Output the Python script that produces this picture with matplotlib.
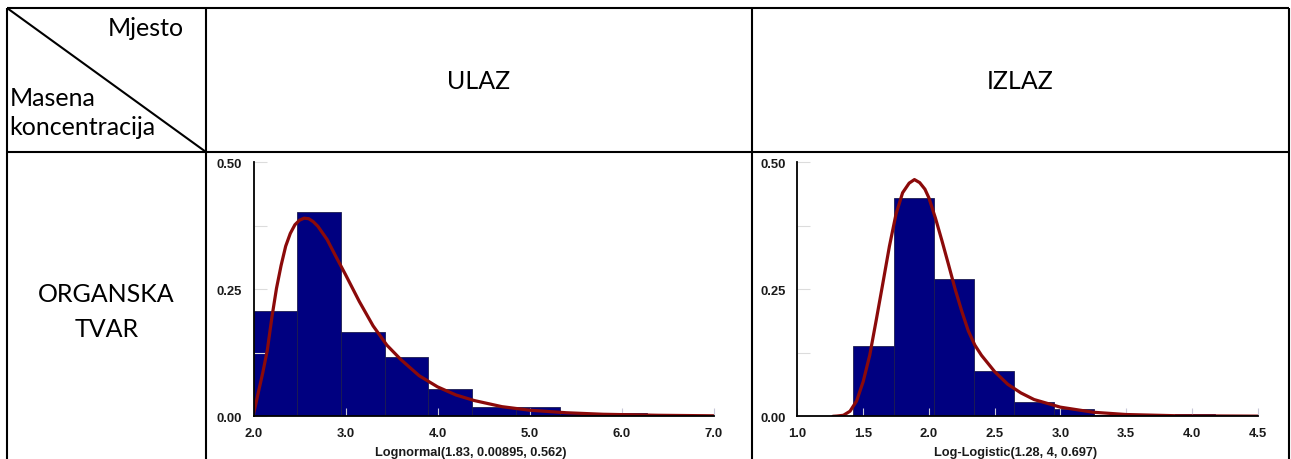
import numpy as np
import matplotlib
matplotlib.use('Agg')
import matplotlib.pyplot as plt
from matplotlib.ticker import FixedLocator, FormatStrFormatter

# histogram bins (relative frequencies)
ulaz_edges = [2.0, 2.476, 2.951, 3.427, 3.902, 4.378, 4.853, 5.329, 5.804, 6.280]
ulaz_freq = [0.208, 0.403, 0.166, 0.116, 0.054, 0.018, 0.018, 0.0068, 0.0068]
izlaz_edges = [1.425, 1.731, 2.036, 2.342, 2.647, 2.953, 3.258, 3.564, 3.869, 4.175]
izlaz_freq = [0.138, 0.430, 0.270, 0.090, 0.029, 0.0134, 0.003, 0.002, 0.0055]

# fitted curves, points
ulaz_fit_x = [2.0, 2.02, 2.05, 2.10, 2.15, 2.20, 2.25, 2.30, 2.35, 2.40, 2.45, 2.50,
              2.55, 2.60, 2.65, 2.70, 2.80, 2.90, 3.00, 3.15, 3.30, 3.45, 3.60, 3.80,
              4.00, 4.20, 4.40, 4.70, 5.00, 5.40, 5.80, 6.40, 7.0]
ulaz_fit_y = [0.005, 0.02, 0.045, 0.085, 0.13, 0.195, 0.252, 0.297, 0.335, 0.36, 0.377, 0.386,
              0.39, 0.389, 0.383, 0.374, 0.348, 0.313, 0.279, 0.226, 0.178, 0.14, 0.112, 0.08,
              0.058, 0.042, 0.031, 0.019, 0.012, 0.007, 0.004, 0.002, 0.001]
izlaz_fit_x = [1.27, 1.30, 1.35, 1.40, 1.45, 1.50, 1.55, 1.60, 1.65, 1.70, 1.75, 1.80,
               1.85, 1.89, 1.93, 1.97, 2.00, 2.05, 2.10, 2.15, 2.20, 2.25, 2.30, 2.35,
               2.40, 2.50, 2.60, 2.70, 2.80, 3.00, 3.25, 3.50, 3.90, 4.50]
izlaz_fit_y = [0.0, 0.0005, 0.002, 0.01, 0.03, 0.068, 0.12, 0.19, 0.262, 0.335, 0.398, 0.44,
               0.459, 0.466, 0.46, 0.447, 0.43, 0.39, 0.345, 0.298, 0.25, 0.207, 0.168, 0.14,
               0.12, 0.088, 0.063, 0.046, 0.033, 0.018, 0.008, 0.0035, 0.001, 0.0003]

ulaz_label = 'Lognormal(1.83, 0.00895, 0.562)'
izlaz_label = 'Log-Logistic(1.28, 4, 0.697)'

W, H = 1291, 460
fig = plt.figure(figsize=(W/100, H/100), dpi=100)

# table frame drawn in pixel coordinates
tab = fig.add_axes([0, 0, 1, 1])
tab.set_xlim(0, W)
tab.set_ylim(H, 0)
tab.axis('off')
lw = 1.5
for xs, ys in [([7, 1289], [9, 9]), ([7, 1289], [153, 153]),
               ([7, 7], [9, H]), ([206, 206], [9, H]), ([752, 752], [9, H]),
               ([1289, 1289], [9, H]), ([7, 206], [9, 153])]:
    tab.plot(xs, ys, color='black', lw=lw, clip_on=False, solid_capstyle='butt')

tfont = dict(family='Lato', size=18, color='black')
tab.text(184, 36.5, 'Mjesto', ha='right', va='baseline', **tfont)
tab.text(10, 106.5, 'Masena', ha='left', va='baseline', **tfont)
tab.text(9, 135, 'koncentracija', ha='left', va='baseline', **tfont)
tab.text(479, 89, 'ULAZ', ha='center', va='baseline', **tfont)
tab.text(1020.5, 89, 'IZLAZ', ha='center', va='baseline', **tfont)
tab.text(106.5, 302, 'ORGANSKA', ha='center', va='baseline', **tfont)
tab.text(106.5, 337, 'TVAR', ha='center', va='baseline', **tfont)


def hist_panel(rect, edges, freq, fx, fy, xlim, xticks, label):
    ax = fig.add_axes(rect)
    ax.set_facecolor('none')
    edges = np.array(edges)
    ax.bar(edges[:-1], freq, width=np.diff(edges), align='edge',
           color='#000080', edgecolor='#1c1c50', linewidth=0.6, zorder=1)
    ax.plot(fx, fy, color='#8b0a0a', lw=2.3, zorder=3, solid_capstyle='round')
    ax.set_xlim(xlim)
    ax.set_ylim(0, 0.5)
    for s in ['top', 'right']:
        ax.spines[s].set_visible(False)
    for s in ['left', 'bottom']:
        ax.spines[s].set_linewidth(1.3)
        ax.spines[s].set_zorder(4)
    ax.set_xticks(xticks)
    ax.set_yticks([0, 0.25, 0.5])
    ax.yaxis.set_minor_locator(FixedLocator([0.125, 0.375]))
    ax.xaxis.set_major_formatter(FormatStrFormatter('%.1f'))
    ax.yaxis.set_major_formatter(FormatStrFormatter('%.2f'))
    ax.tick_params(axis='y', which='both', direction='in', length=9, width=0.8,
                   color='#dcdcdc', pad=8.5)
    ax.tick_params(axis='x', which='both', direction='in', length=6, width=0.8,
                   color='#c8c8d8', pad=8)
    for t in ax.get_xticklabels() + ax.get_yticklabels():
        t.set_fontfamily('Liberation Sans')
        t.set_fontweight('bold')
        t.set_fontsize(9.4)
        t.set_color('#1a1a1a')
    ax.set_xlabel(label, fontfamily='Liberation Sans', fontweight='bold',
                  fontsize=9.2, color='#1a1a1a')
    ax.xaxis.set_label_coords(0.473, -0.14)
    ax.xaxis.label.set_va('center')
    return ax


ax1 = hist_panel([253.5/W, (H-417.3)/H, 460/W, 254/H], ulaz_edges, ulaz_freq,
                 ulaz_fit_x, ulaz_fit_y, (2.0, 7.0),
                 [2.0, 3.0, 4.0, 5.0, 6.0, 7.0], ulaz_label)
ax2 = hist_panel([797.4/W, (H-417.3)/H, 460.2/W, 254/H], izlaz_edges, izlaz_freq,
                 izlaz_fit_x, izlaz_fit_y, (1.0, 4.5),
                 [1.0, 1.5, 2.0, 2.5, 3.0, 3.5, 4.0, 4.5], izlaz_label)

plt.savefig('out.png', dpi=100)
